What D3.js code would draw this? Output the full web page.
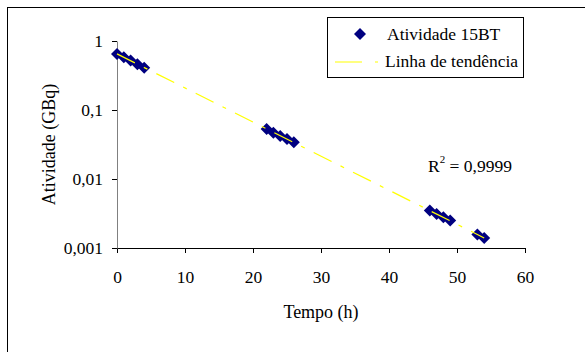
<!DOCTYPE html>
<html>
<head>
<meta charset="utf-8">
<script src="https://cdn.jsdelivr.net/npm/d3@7"></script>
<style>
  body { margin: 0; background: #fff; }
  text { font-family: "Liberation Serif", "Times New Roman", serif; fill: #000; }
</style>
</head>
<body>
<script>
// measured activity (GBq) vs time (h)
var tempo = [0, 1, 2, 3, 4, 22, 23, 24, 25, 26, 46, 47, 48, 49, 53, 54];
var atividade = [0.65, 0.58, 0.52, 0.46, 0.41, 0.053, 0.047, 0.042, 0.038, 0.034,
                 0.0035, 0.0031, 0.0028, 0.0025, 0.00157, 0.0014];
// trend line end points (exponential fit)
var trendT = [0, 54];
var trendA = [0.65, 0.0014];
var xTicks = [0, 10, 20, 30, 40, 50, 60];
var yTicks = [0.001, 0.01, 0.1, 1];
var yTickLabels = ['0,001', '0,01', '0,1', '1'];
var r2Label = '0,9999';

var W = 585, H = 352;
var margin = { top: 41, right: 60, bottom: 104, left: 117 };
var fs = '17.5px';

var svg = d3.select('body').append('svg')
    .attr('width', W)
    .attr('height', H);

// chart area border
svg.append('rect')
    .attr('x', 7.5).attr('y', 7.5)
    .attr('width', 600).attr('height', 400)
    .attr('fill', 'none')
    .attr('stroke', '#000');

var x = d3.scaleLinear().domain([0, 60]).range([margin.left, W - margin.right]);
var y = d3.scaleLog().domain([0.001, 1]).range([H - margin.bottom, margin.top]);

// x axis
var xAxis = svg.append('g')
    .attr('transform', 'translate(0,' + y(0.001) + ')')
    .call(d3.axisBottom(x).tickValues(xTicks).tickSize(5).tickSizeOuter(0).tickPadding(18));
xAxis.select('.domain').attr('stroke', '#000');
xAxis.selectAll('.tick line').attr('stroke', '#000');
xAxis.selectAll('text')
    .style('font-family', '"Liberation Serif", serif')
    .style('font-size', fs);

// y axis
var yAxis = svg.append('g')
    .attr('transform', 'translate(' + x(0) + ',0)')
    .call(d3.axisLeft(y).tickValues(yTicks)
        .tickFormat(function(d, i) { return yTickLabels[i]; })
        .tickSize(5).tickSizeOuter(0).tickPadding(9));
yAxis.select('.domain').attr('stroke', '#808080');
yAxis.selectAll('.tick line').attr('stroke', '#000');
yAxis.selectAll('text')
    .style('font-family', '"Liberation Serif", serif')
    .style('font-size', fs);

// axis titles
svg.append('text')
    .attr('transform', 'translate(55,' + ((y(1) + y(0.001)) / 2) + ') rotate(-90)')
    .attr('text-anchor', 'middle')
    .style('font-size', '18px')
    .text('Atividade (GBq)');

svg.append('text')
    .attr('x', (x(0) + x(60)) / 2)
    .attr('y', 318)
    .attr('text-anchor', 'middle')
    .style('font-size', '18px')
    .text('Tempo (h)');

// diamonds
var diamond = 'M0,-6L6,0L0,6L-6,0Z';
svg.append('g')
    .selectAll('path')
    .data(tempo)
    .enter()
    .append('path')
    .attr('d', diamond)
    .attr('transform', function(d, i) {
        return 'translate(' + x(d) + ',' + y(atividade[i]) + ')';
    })
    .attr('fill', '#000080');

// trend line
var line = d3.line()
    .x(function(d) { return x(d[0]); })
    .y(function(d) { return y(d[1]); });
svg.append('path')
    .attr('d', line(d3.zip(trendT, trendA)))
    .attr('fill', 'none')
    .attr('stroke', '#ffff00')
    .attr('stroke-width', 1.2)
    .attr('stroke-dasharray', '20,10,4,10');

// R^2
var r2 = svg.append('text')
    .attr('x', 428)
    .attr('y', 172)
    .style('font-size', fs);
r2.append('tspan').text('R');
r2.append('tspan').attr('dy', -9).style('font-size', '11px').text('2');
r2.append('tspan').attr('dy', 9).text(' = ' + r2Label);

// legend
var lg = svg.append('g');
lg.append('rect')
    .attr('x', 327.5).attr('y', 17.5)
    .attr('width', 196).attr('height', 60)
    .attr('fill', '#fff')
    .attr('stroke', '#000');
lg.append('path')
    .attr('d', diamond)
    .attr('transform', 'translate(360,34)')
    .attr('fill', '#000080');
lg.append('text')
    .attr('x', 387).attr('y', 40)
    .style('font-size', fs)
    .text('Atividade 15BT');
lg.append('line')
    .attr('x1', 335).attr('x2', 380)
    .attr('y1', 62).attr('y2', 62)
    .attr('stroke', '#ffff00')
    .attr('stroke-width', 1.2)
    .attr('stroke-dasharray', '27,13,3,20');
lg.append('text')
    .attr('x', 385).attr('y', 67)
    .style('font-size', fs)
    .text('Linha de tendência');
</script>
</body>
</html>
